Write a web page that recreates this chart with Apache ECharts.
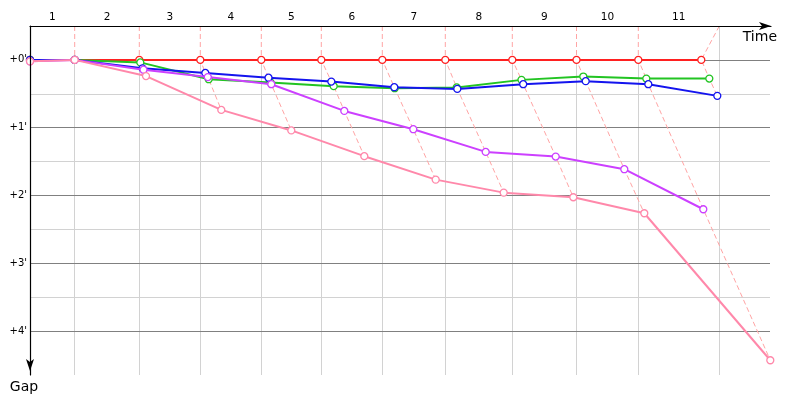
<!DOCTYPE html>
<html>
<head>
<meta charset="utf-8">
<script src="https://cdn.jsdelivr.net/npm/echarts@6.0.0/dist/echarts.min.js"></script>
<style>
html,body{margin:0;padding:0;background:#ffffff;}
#chart{width:800px;height:400px;}
</style>
</head>
<body>
<div id="chart"></div>
<script>
// ---- data (time in arbitrary chart units, gap in minutes) ----
const lapLabels = ['1','2','3','4','5','6','7','8','9','10','11'];
const lapBoundaries = [44.7, 109.3, 170.3, 231.3, 291.3, 352.3, 415.3, 482.3, 546.5, 608.3, 689.3];
const gapTicks = [0, 1, 2, 3, 4];
const gapTickLabels = ["+0'", "+1'", "+2'", "+3'", "+4'"];
const gapMinorLines = [0.5, 1.5, 2.5, 3.5];

const redTimes   = [0, 44.7, 109.3, 170.3, 231.3, 291.3, 352.3, 415.3, 482.3, 546.5, 608.3, 671.3];
const redGaps    = [0, 0, 0, 0, 0, 0, 0, 0, 0, 0, 0, 0];

const greenTimes = [0, 44.7, 110.3, 178.7, 240.5, 303.7, 364.7, 426.7, 491.5, 553.3, 616.3, 679.3];
const greenGaps  = [0, 0, 0.037, 0.285, 0.332, 0.388, 0.418, 0.406, 0.295, 0.246, 0.276, 0.276];

const blueTimes  = [0, 44.7, 112.5, 175.3, 238.5, 301.3, 364.3, 427.3, 493.2, 555.7, 618.3, 687.3];
const blueGaps   = [0, 0, 0.125, 0.192, 0.263, 0.320, 0.403, 0.428, 0.359, 0.314, 0.359, 0.531];

const purpleTimes = [0, 44.7, 113.5, 177.8, 241.3, 314.3, 383.3, 455.7, 525.7, 594.3, 673.3];
const purpleGaps  = [0.022, 0, 0.145, 0.254, 0.359, 0.753, 1.023, 1.358, 1.427, 1.613, 2.204];

const pinkTimes  = [0, 44.7, 116, 191.3, 261.3, 334.3, 405.7, 473.7, 543.3, 614.3, 740.3];
const pinkGaps   = [0.022, 0, 0.239, 0.738, 1.041, 1.421, 1.767, 1.959, 2.027, 2.263, 4.432];

// ---- layout / style ----
const GAP_MIN = -0.5, GAP_MAX = 4.65;
const TIME_MIN = 0, TIME_MAX = 741, GRID_TIME_END = 740;
const FONT = 'DejaVu Sans';

const cars = [
  {times: redTimes,    gaps: redGaps,    color: '#ff2020'},
  {times: greenTimes,  gaps: greenGaps,  color: '#22c422'},
  {times: blueTimes,   gaps: blueGaps,   color: '#1414ee'},
  {times: purpleTimes, gaps: purpleGaps, color: '#cc40ff'},
  {times: pinkTimes,   gaps: pinkGaps,   color: '#ff88aa'}
];

const zip = (t, g) => t.map((v, i) => [v, g[i]]);

// lap label positions: midpoint of each lap interval
const lapMids = lapBoundaries.map((b, i) => ((i === 0 ? TIME_MIN : lapBoundaries[i - 1]) + b) / 2);

// grid lines as mark lines
const lineOpts = (color) => ({ color: color, width: 1, type: 'solid' });
const gridMarkData = [];
gapMinorLines.forEach(g => gridMarkData.push([
  {coord: [TIME_MIN, g], lineStyle: lineOpts('#d2d2d2')}, {coord: [GRID_TIME_END, g]}
]));
lapBoundaries.forEach((b, i) => {
  const start = Math.abs(redTimes[i + 1] - b) < 0.01 ? 0 : GAP_MIN;
  gridMarkData.push([{coord: [b, start], lineStyle: lineOpts('#d2d2d2')}, {coord: [b, GAP_MAX]}]);
});
gapTicks.forEach(g => gridMarkData.push([
  {coord: [TIME_MIN, g], lineStyle: lineOpts('#808080')}, {coord: [GRID_TIME_END, g]}
]));

const series = [];
series.push({
  type: 'line', data: [], silent: true, z: 1,
  markLine: {
    z: 1, silent: true, symbol: ['none', 'none'], label: {show: false},
    emphasis: {disabled: true}, animation: false,
    data: gridMarkData
  }
});

// lap lines (dashed): from top gridline to leader crossing, then through each car's crossing
lapBoundaries.forEach((b, i) => {
  const lap = i + 1;
  const pts = cars.filter(c => c.times.length > lap)
                  .map(c => [c.times[lap], c.gaps[lap]])
                  .sort((p, q) => p[1] - q[1]);
  series.push({
    type: 'line', data: [[b, GAP_MIN]].concat(pts), symbol: 'none', silent: true, z: 2, clip: false,
    lineStyle: {color: '#ffa4a4', width: 1, type: [5, 3]}
  });
});

cars.forEach((c, i) => {
  series.push({
    type: 'line', data: zip(c.times, c.gaps), z: 3 + i,
    symbol: 'circle', symbolSize: 7, showSymbol: true, clip: false,
    lineStyle: {color: c.color, width: 2},
    itemStyle: {color: '#ffffff', borderColor: c.color, borderWidth: 1.3},
    emphasis: {disabled: true}
  });
});

const chart = echarts.init(document.getElementById('chart'), null, {renderer: 'canvas'});
chart.setOption({
  animation: false,
  backgroundColor: '#ffffff',
  textStyle: {fontFamily: FONT},
  grid: {left: 30, right: 29, top: 26, bottom: 25, containLabel: false},
  xAxis: {
    type: 'value', position: 'top', min: TIME_MIN, max: TIME_MAX, z: 10,
    name: 'Time', nameLocation: 'end', nameGap: 6,
    nameTextStyle: {fontFamily: FONT, fontSize: 14, color: '#000', align: 'right', verticalAlign: 'top', padding: [4, 0, 0, 0]},
    axisLine: {show: true, onZero: false, lineStyle: {color: '#000', width: 1.2}, symbol: ['none', 'arrow'], symbolSize: [6, 12]},
    axisTick: {show: false},
    splitLine: {show: false},
    axisLabel: {
      show: true, customValues: lapMids, margin: 3, fontSize: 10.5, color: '#000', fontFamily: FONT,
      formatter: v => { const k = lapMids.findIndex(m => Math.abs(m - v) < 1e-6); return k >= 0 ? lapLabels[k] : ''; }
    }
  },
  yAxis: {
    type: 'value', inverse: true, min: GAP_MIN, max: GAP_MAX, interval: 0.5, z: 10,
    name: 'Gap', nameLocation: 'end', nameGap: 5,
    nameTextStyle: {fontFamily: FONT, fontSize: 14, color: '#000', padding: [0, 12, 0, 0]},
    axisLine: {show: true, onZero: false, lineStyle: {color: '#000', width: 1.2}, symbol: ['arrow', 'none'], symbolSize: [6, 12], symbolOffset: [4, 0]},
    axisTick: {show: false},
    splitLine: {show: false},
    axisLabel: {
      margin: 3, fontSize: 10, color: '#000', fontFamily: FONT,
      formatter: v => { const k = gapTicks.findIndex(t => Math.abs(t - v) < 1e-6); return k >= 0 ? gapTickLabels[k] : ''; }
    }
  },
  series: series
});
</script>
</body>
</html>
